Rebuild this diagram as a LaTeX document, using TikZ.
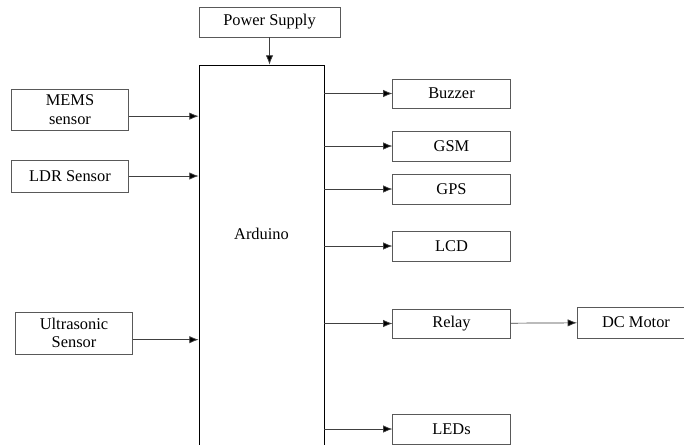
\documentclass[tikz,border=0pt]{standalone}
\usepackage{fontspec}
\setmainfont{Liberation Serif}
\usetikzlibrary{arrows.meta,positioning,calc}
\tikzset{
  blkarr/.style={-{Latex[length=2.8mm,width=2.2mm,fill=black]}, draw=black!75, line width=0.6pt},
  blknode/.style={draw=black!65, line width=0.6pt, align=center, inner sep=2pt, fill=white},
}

\begin{document}
\begin{tikzpicture}[
  x=0.03cm, y=-0.03cm,
  font=\fontsize{14}{16}\selectfont,
  bx/.style={blknode, minimum width=3.52cm, minimum height=0.9cm},
]
  \clip (0,0) rectangle (684,444);
  \fill[white] (0,0) rectangle (684,444);
  % controller
  \node[blknode, draw=black, minimum width=3.75cm, minimum height=12.6cm,
        label={[anchor=center, yshift=-5.07cm]north:Arduino}] (ard) at (261.5,275) {};
  \node[blknode, minimum width=4.23cm, minimum height=0.9cm] (ps) at (269.5,22) {Power Supply};
  % inputs
  \node[bx, minimum height=1.23cm] (mems) at (70,109.5) {MEMS\\sensor};
  \node[bx, minimum height=0.96cm] (ldr) at (70,176) {LDR Sensor};
  \node[bx, minimum height=1.26cm] (ultra) at (74,333) {Ultrasonic\\Sensor};
  % outputs
  \node[bx, minimum height=0.87cm] (buzzer) at (451.5,93.5) {Buzzer};
  \node[bx] (gsm) at (451.5,146) {GSM};
  \node[bx] (gps) at (451.5,189) {GPS};
  \node[bx] (lcd) at (451.5,246) {LCD};
  \node[bx, minimum height=0.87cm] (relay) at (451.5,323.5) {Relay};
  \node[bx] (leds) at (451.5,429) {LEDs};
  \node[bx, minimum height=0.93cm] (motor) at (636,322.5) {DC Motor};

  \draw[blkarr] (ps.south) -- (ps.south |- ard.north);
  \draw[blkarr] ([yshift=-0.2cm]mems.east) -- ([yshift=-0.2cm]mems.east -| ard.west);
  \draw[blkarr] (ldr.east) -- (ldr.east -| ard.west);
  \draw[blkarr] ([yshift=-0.2cm]ultra.east) -- ([yshift=-0.2cm]ultra.east -| ard.west);
  \foreach \o in {buzzer,gsm,gps,lcd,relay,leds}
    \draw[blkarr] (ard.east |- \o.west) -- (\o.west);
  \draw[blkarr] (relay) -- (motor);
\end{tikzpicture}
\end{document}
